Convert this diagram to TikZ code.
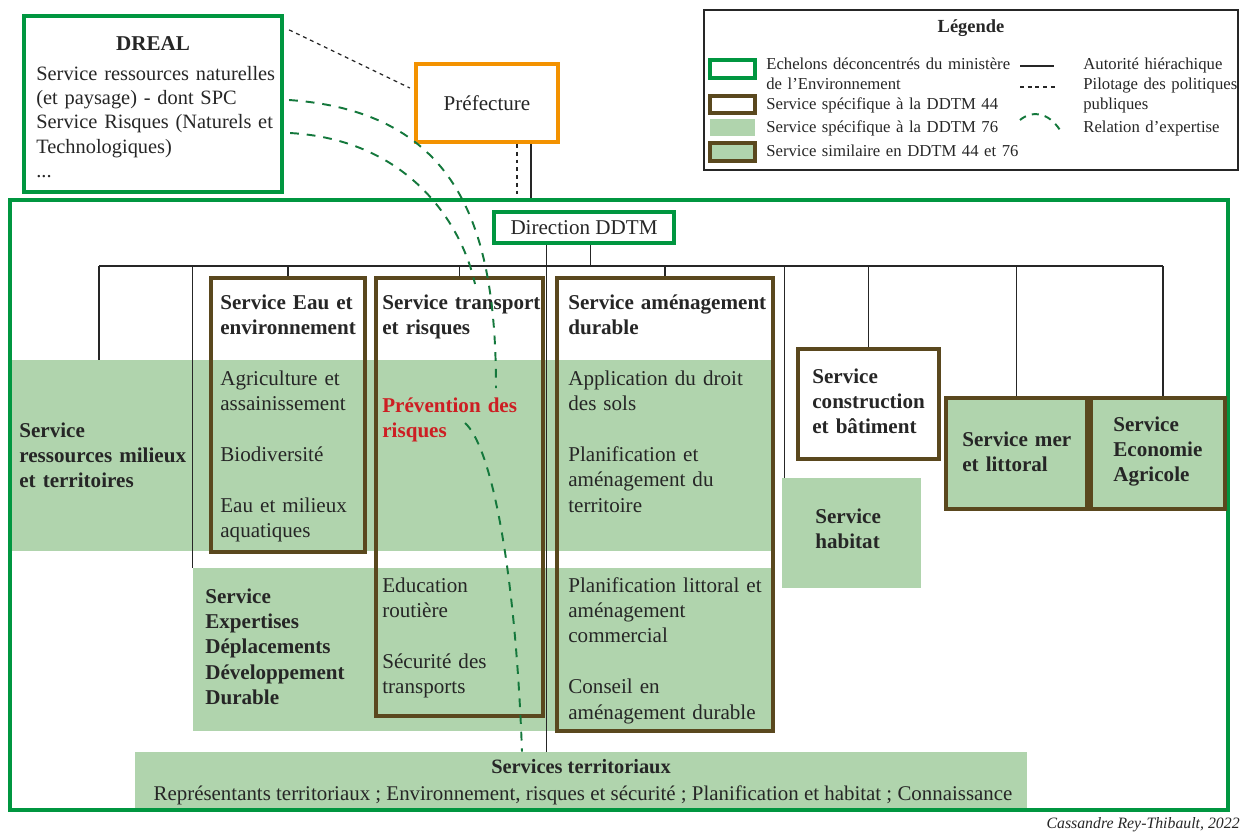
\documentclass[tikz,border=0pt]{standalone}
\usepackage{fontspec}
\setmainfont{Liberation Serif}
\usetikzlibrary{calc}
\usetikzlibrary{fit}

\definecolor{vertddtm}{RGB}{0,150,64}
\definecolor{vertpale}{RGB}{176,212,173}
\definecolor{brun}{RGB}{90,72,30}
\definecolor{orangepref}{RGB}{243,146,0}
\definecolor{rouge}{RGB}{205,30,35}
\definecolor{vertexp}{RGB}{20,120,60}

\begin{document}
\begin{tikzpicture}[x=0.02cm, y=-0.02cm,
    cadrevert/.style={draw=vertddtm, line width=2.4pt, inner sep=0pt},
    cadrebrun/.style={draw=brun, line width=1.8pt, inner sep=0pt},
    cadrepref/.style={draw=orangepref, line width=2.4pt, inner sep=0pt},
    cadreleg/.style={draw=black!85, line width=0.9pt, inner sep=0pt},
    bande/.style={fill=vertpale, inner sep=0pt},
    hier/.style={black!85, line width=0.6pt},
    pilot/.style={black!85, line width=0.7pt, dash pattern=on 2.2pt off 2.2pt},
    expert/.style={vertexp, line width=1.1pt, dash pattern=on 5pt off 4.5pt},
    txt/.style={anchor=base west, inner sep=0pt, text width=6cm, align=left, text=black!85, font=\fontsize{12}{14.5}\selectfont},
    titre/.style={txt, font=\fontsize{12}{14.5}\selectfont\bfseries},
    legtxt/.style={txt, font=\fontsize{9.5}{11.5}\selectfont},
    centre/.style={inner sep=0pt, text=black!85, font=\fontsize{12}{14.5}\selectfont}]

    \useasboundingbox (0,0) rectangle (1250,833);

    \node[bande, fit={(12,360) (773,551)}] (srmt) {};
    \node[bande, fit={(193,568) (773,731)}] (sedd) {};
    \node[bande, fit={(782,478) (921,588)}] (habitat) {};
    \node[bande, fit={(135,752) (1027,808)}] (territ) {};

    \node[cadrevert, fit={(24,16) (282,192)}] (dreal) {};
    \node[cadrepref, fit={(416,64) (558,142)}] (pref) {};
    \node[cadrevert, fit={(10,200) (1228,810)}] (ddtm) {};
    \node[cadrevert, fit={(494,212) (674,243)}] (direction) {};
    \node[cadrebrun, fit={(211,278) (365,552)}] (eau) {};
    \node[cadrebrun, fit={(376,278) (543,716)}] (transport) {};
    \node[cadrebrun, fit={(557,278) (773,731)}] (amenag) {};
    \node[cadrebrun, fill=white, fit={(798,349) (939,459)}] (constr) {};
    \node[cadrebrun, fill=vertpale, fit={(946,398) (1087,509)}] (mer) {};
    \node[cadrebrun, fill=vertpale, fit={(1091,398) (1225,509)}] (eco) {};

    \coordinate (busG) at (99,266);
    \coordinate (busD) at ($(eco.north |- busG)+(5,0)$);
    \draw[hier] (busG) -- (busD);
    \draw[hier] (busG) -- (busG |- srmt.north);
    \draw[hier] (sedd.north west) -- (sedd.north west |- busG);
    \foreach \s in {eau,transport,amenag,constr,mer}
        \draw[hier] (\s.north) -- (\s.north |- busG);
    \draw[hier] (busD) -- (busD |- eco.north);
    \draw[hier] ($(habitat.north west)+(3,0)$) coordinate (hab) -- (hab |- busG);
    \draw[hier] ($(direction.south west)+(55,0)$) coordinate (dirA) -- (dirA |- territ.north);
    \draw[hier] ($(direction.south west)+(99,0)$) coordinate (dirB) -- (dirB |- busG);
    \draw[pilot] ($(pref.south)+(30,0)$) coordinate (prefA) -- (prefA |- ddtm.north);
    \draw[hier] ($(pref.south)+(44,0)$) coordinate (prefB) -- (prefB |- ddtm.north);
    \draw[pilot] ($(dreal.north east)+(5,16)$) -- ($(pref.west)+(-4,-15)$);

    \node[centre, font=\fontsize{12}{14.5}\selectfont\bfseries, anchor=base] (drealT) at (153,50) {DREAL};
    \node[txt, font=\fontsize{11.6}{13.9}\selectfont] (drealL) at (36,80) {Service ressources naturelles\\(et paysage) - dont SPC\\Service Risques (Naturels et\\Technologiques)\\...};
    \node[centre] (prefT) at (pref) {Préfecture};
    \node[centre] (dirT) at (direction) {Direction DDTM};

    \node[titre] (srmtT) at (19,437) {Service\\ressources milieux\\et territoires};
    \node[titre] (eauT) at (220,309) {Service Eau et\\environnement};
    \node[txt] (eauL) at (220,385) {Agriculture et\\assainissement\\[14.5pt]Biodiversité\\[14.5pt]Eau et milieux\\aquatiques};
    \node[titre] (transportT) at (382,309) {Service transport\\et risques};
    \node[titre, text=rouge] (prevT) at (382,412) {Prévention des\\risques};
    \node[txt] (transportL) at (382,592) {Education\\routière\\[14.5pt]Sécurité des\\transports};
    \node[titre] (amenagT) at (568,309) {Service aménagement\\durable};
    \node[txt] (amenagL) at (568,385) {Application du droit\\des sols\\[14.5pt]Planification et\\aménagement du\\territoire};
    \node[txt] (amenagM) at (568,592) {Planification littoral et\\aménagement\\commercial\\[14.5pt]Conseil en\\aménagement durable};
    \node[titre] (seddT) at (205,603) {Service\\Expertises\\Déplacements\\Développement\\Durable};
    \node[titre] (constrT) at (812,383) {Service\\construction\\et bâtiment};
    \node[titre] (habitatT) at (815,523) {Service\\habitat};
    \node[titre] (merT) at (962,446) {Service mer\\et littoral};
    \node[titre] (ecoT) at (1113,431) {Service\\Economie\\Agricole};
    \node[centre, font=\fontsize{11.6}{14}\selectfont\bfseries, anchor=base] (territT) at (581,773) {Services territoriaux};
    \node[centre, font=\fontsize{11.9}{14}\selectfont, anchor=base] (territL) at (583,800) {Représentants territoriaux ; Environnement, risques et sécurité ; Planification et habitat ; Connaissance};

    \draw[expert] ($(dreal.east)+(5,-4)$) .. controls (460,112) and (496,230) .. (496,388) coordinate (finA);
    \draw[expert] ($(dreal.east)+(6,29)$) .. controls (410,140) and (462,225) .. (475,284) coordinate (finB);
    \coordinate (depC) at (465,423);
    \draw[expert] (depC) .. controls (490,445) and (515,560) .. ($(territ.north)+(-59,0)$);

    \node[cadreleg, fit={(704,10) (1238,170)}] (leg) {};
    \node[centre, font=\fontsize{10.5}{12}\selectfont\bfseries, anchor=base] (legT) at (971,32) {Légende};
    \node[cadrevert, fit={(710,60) (755,78)}] (swVert) {};
    \node[cadrebrun, fit={(710,96) (755,113)}] (swBrun) {};
    \node[bande, fit={(710,119) (755,136)}] (swPale) {};
    \node[cadrebrun, fill=vertpale, fit={(710,143) (755,161)}] (swSim) {};
    \node[legtxt] (legVert) at (766,69) {Echelons déconcentrés du ministère\\de l’Environnement};
    \node[legtxt] (legBrun) at (766,109) {Service spécifique à la DDTM 44};
    \node[legtxt] (legPale) at (766,132) {Service spécifique à la DDTM 76};
    \node[legtxt] (legSim) at (766,156) {Service similaire en DDTM 44 et 76};
    \coordinate (ligA1) at (1020,66);
    \coordinate (ligA2) at (1054,66);
    \coordinate (ligB1) at (1020,87);
    \coordinate (ligB2) at (1058,87);
    \coordinate (ligC1) at (1020,120);
    \coordinate (ligC2) at (1060,130);
    \draw[hier, line width=0.8pt] (ligA1) -- (ligA2);
    \draw[pilot] (ligB1) -- (ligB2);
    \draw[expert, dash pattern=on 4pt off 3.5pt] (ligC1) .. controls (1032,110) and (1048,112) .. (ligC2);
    \node[legtxt] (legHier) at (1083,69) {Autorité hiérachique};
    \node[legtxt] (legPilot) at (1083,89) {Pilotage des politiques\\publiques};
    \node[legtxt] (legExp) at (1083,132) {Relation d’expertise};

    \node[inner sep=0pt, anchor=base east, text=black!85, font=\fontsize{9}{10}\selectfont\itshape] (credit) at (1240,828) {Cassandre Rey-Thibault, 2022};
\end{tikzpicture}
\end{document}
